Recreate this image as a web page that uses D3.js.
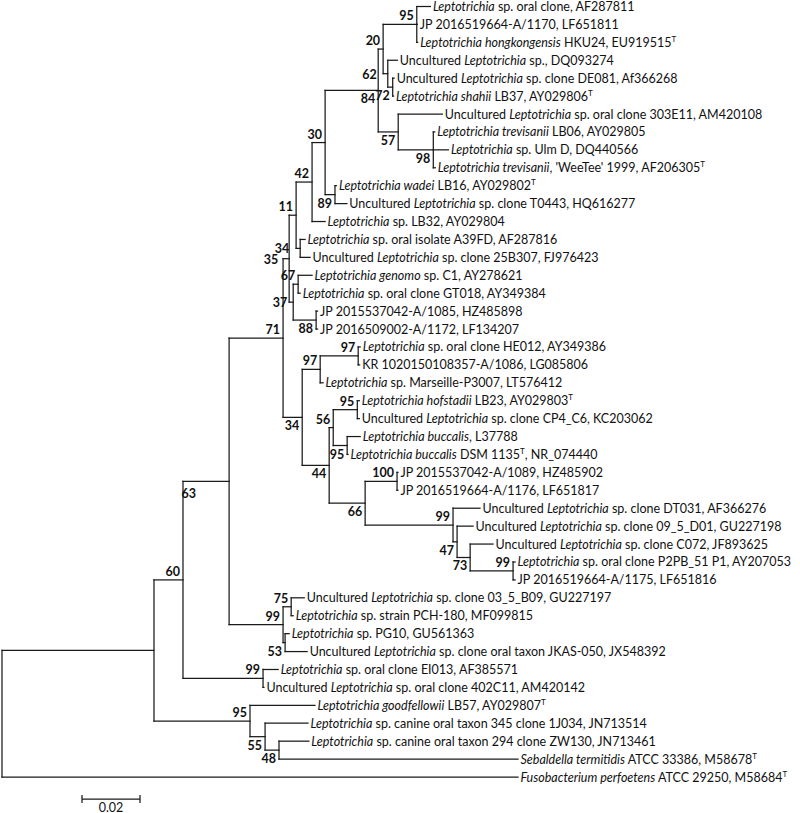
<!DOCTYPE html>
<html><head><meta charset="utf-8">
<script src="https://cdn.jsdelivr.net/npm/d3@7"></script>
<style>
html,body{margin:0;padding:0;background:#fff;}
svg{display:block;}
.leaf{font-family:Lato,"Open Sans",sans-serif;font-size:12.5px;fill:#111;}
.boot{font-family:Lato,"Open Sans",sans-serif;font-size:12.5px;font-weight:bold;fill:#111;}
</style></head>
<body>
<svg id="chart" width="800" height="813"></svg>
<script>
// ---------------- DATA ----------------
const leafNames = [
 "*Leptotrichia* sp. oral clone, AF287811",
 "JP 2016519664-A/1170, LF651811",
 "*Leptotrichia hongkongensis* HKU24, EU919515^T",
 "Uncultured *Leptotrichia* sp., DQ093274",
 "Uncultured *Leptotrichia* sp. clone DE081, Af366268",
 "*Leptotrichia shahii* LB37, AY029806^T",
 "Uncultured *Leptotrichia* sp. oral clone 303E11, AM420108",
 "*Leptotrichia trevisanii* LB06, AY029805",
 "*Leptotrichia* sp. Ulm D, DQ440566",
 "*Leptotrichia trevisanii*, 'WeeTee' 1999, AF206305^T",
 "*Leptotrichia wadei* LB16, AY029802^T",
 "Uncultured *Leptotrichia* sp. clone T0443, HQ616277",
 "*Leptotrichia* sp. LB32, AY029804",
 "*Leptotrichia* sp. oral isolate A39FD, AF287816",
 "Uncultured *Leptotrichia* sp. clone 25B307, FJ976423",
 "*Leptotrichia genomo* sp. C1, AY278621",
 "*Leptotrichia* sp. oral clone GT018, AY349384",
 "JP 2015537042-A/1085, HZ485898",
 "JP 2016509002-A/1172, LF134207",
 "*Leptotrichia* sp. oral clone HE012, AY349386",
 "KR 1020150108357-A/1086, LG085806",
 "*Leptotrichia* sp. Marseille-P3007, LT576412",
 "*Leptotrichia hofstadii* LB23, AY029803^T",
 "Uncultured *Leptotrichia* sp. clone CP4_C6, KC203062",
 "*Leptotrichia buccalis*, L37788",
 "*Leptotrichia buccalis* DSM 1135^T, NR_074440",
 "JP 2015537042-A/1089, HZ485902",
 "JP 2016519664-A/1176, LF651817",
 "Uncultured *Leptotrichia* sp. clone DT031, AF366276",
 "Uncultured *Leptotrichia* sp. clone 09_5_D01, GU227198",
 "Uncultured *Leptotrichia* sp. clone C072, JF893625",
 "*Leptotrichia* sp. oral clone P2PB_51 P1, AY207053",
 "JP 2016519664-A/1175, LF651816",
 "Uncultured *Leptotrichia* sp. clone 03_5_B09, GU227197",
 "*Leptotrichia* sp. strain PCH-180, MF099815",
 "*Leptotrichia* sp. PG10, GU561363",
 "Uncultured *Leptotrichia* sp. clone oral taxon JKAS-050, JX548392",
 "*Leptotrichia* sp. oral clone EI013, AF385571",
 "Uncultured *Leptotrichia* sp. oral clone 402C11, AM420142",
 "*Leptotrichia goodfellowii* LB57, AY029807^T",
 "*Leptotrichia* sp. canine oral taxon 345 clone 1J034, JN713514",
 "*Leptotrichia* sp. canine oral taxon 294 clone ZW130, JN713461",
 "*Sebaldella termitidis* ATCC 33386, M58678^T",
 "*Fusobacterium perfoetens* ATCC 29250, M58684^T"
];
const scaleBarValue = 0.02;
const scaleBarLabel = "0.02";

// Tree: N(branchLength, bootstrap, labelPlacement, ...children); L(leafIndex, branchLength)
function N(len, boot, place, ...children){ return {len, boot, place, children}; }
function L(i, len){ return {len, leaf:i}; }

const tree = N(0, null, null,
  N(0.0524, null, null,
    N(0.0100, 60, 'al',
      N(0.0159, 63, 'far',
        N(0.0186, 71, 'al',
          N(0.0021, 35, 'L',
            N(0.0024, 11, 'al',
              N(0.0055, 42, 'al',
                N(0.0045, 30, 'al',
                  N(0.0183, 84, 'bl',
                    N(0.0017, 20, 'al',
                      N(0.0116, 95, 'al', L(0,0.0047), L(1,0.0002), L(2,0.0003)),
                      N(0.0016, 62, 'L', L(3,0.0033), N(0.0017, 72, 'bl', L(4,0.0005), L(5,0.0003)))),
                    N(0.0069, 57, 'bl', L(6,0.0152),
                      N(0.0121, 98, 'bl', L(7,0.0005), L(8,0.0052), L(9,0.0007)))),
                  N(0.0034, 89, 'bl', L(10,0.0005), L(11,0.0041))),
                L(12,0.0045)),
              N(0.0014, 34, 'L', L(13,0.0017), L(14,0.0034))),
            N(0.0014, 37, 'l',
              N(0.0017, 67, 'al', L(15,0.0048), L(16,0.0007)),
              N(0.0079, 88, 'bl', L(17,0.0005), L(18,0.0005)))),
          N(0.0066, 34, 'bl',
            N(0.0062, 97, 'al',
              N(0.0131, 97, 'al', L(19,0.0007), L(20,0.0005)),
              L(21,0.0010)),
            N(0.0093, 44, 'bl',
              N(0.0014, 56, 'al',
                N(0.0083, 95, 'al', L(22,0.0007), L(23,0.0007)),
                N(0.0048, 95, 'bl', L(24,0.0045), L(25,0.0003))),
              N(0.0124, 66, 'bl',
                N(0.0110, 100, 'al', L(26,0.0003), L(27,0.0003)),
                N(0.0303, 99, 'al', L(28,0.0093),
                  N(0.0014, 47, 'bl', L(29,0.0055),
                    N(0.0045, 73, 'bl', L(30,0.0079),
                      N(0.0148, 99, 'al', L(31,0.0007), L(32,0.0007))))))))),
        N(0.0186, 99, 'al',
          N(0.0028, 75, 'al', L(33,0.0045), L(34,0.0007)),
          N(0.0007, 53, 'bl', L(35,0.0014), L(36,0.0076)))),
      N(0.0276, 99, 'al', L(37,0.0052), L(38,0.0003))),
    N(0.0331, 95, 'al', L(39,0.0224),
      N(0.0052, 55, 'bl', L(40,0.0148),
        N(0.0048, 48, 'bl', L(41,0.0103), L(42,0.0824))))),
  L(43,0.1779));

// ---------------- LAYOUT ----------------
const svg = d3.select("#chart");
const root = d3.hierarchy(tree, d => d.children);
root.eachBefore(d => { d.depthLen = d.parent ? d.parent.depthLen + d.data.len : 0; });

const maxDepth = d3.max(root.leaves(), d => d.depthLen);
const x = d3.scaleLinear().domain([0, maxDepth]).range([2, 518]);
const y = d3.scaleLinear().domain([0, leafNames.length - 1]).range([6.5, 777]);

root.eachAfter(d => {
  d.px = x(d.depthLen);
  if (!d.children) d.py = y(d.data.leaf);
  else d.py = (d.children[0].py + d.children[d.children.length-1].py) / 2;
});

const g = svg.append("g");
const lineColor = "#1a1a1a";
const lw = 1.25;

// horizontal branches
g.selectAll("line.h").data(root.descendants().filter(d => d.parent))
  .join("line").attr("class","h")
  .attr("x1", d => d.parent.px).attr("x2", d => d.px)
  .attr("y1", d => d.py).attr("y2", d => d.py)
  .attr("stroke", lineColor).attr("stroke-width", lw).attr("stroke-linecap","square");
// vertical connectors
g.selectAll("line.v").data(root.descendants().filter(d => d.children))
  .join("line").attr("class","v")
  .attr("x1", d => d.px).attr("x2", d => d.px)
  .attr("y1", d => d.children[0].py).attr("y2", d => d.children[d.children.length-1].py)
  .attr("stroke", lineColor).attr("stroke-width", lw).attr("stroke-linecap","square");

// leaf labels with italics / superscript
function addRich(textSel, str){
  const parts = str.split(/(\*[^*]+\*|\^T)/).filter(s => s.length);
  let sup = false;
  parts.forEach(p => {
    if (p === "^T") {
      textSel.append("tspan").attr("dy", -5).attr("font-size", "8px").text("T");
      sup = true;
    } else {
      const t = textSel.append("tspan");
      if (sup) { t.attr("dy", 5); sup = false; }
      if (p.startsWith("*")) t.attr("font-style","italic").text(p.slice(1,-1));
      else t.text(p);
    }
  });
}
g.selectAll("text.leaf").data(root.leaves())
  .join("text").attr("class","leaf")
  .attr("x", d => d.px + 2.5).attr("y", d => d.py + 4.5)
  .each(function(d){ addRich(d3.select(this), leafNames[d.data.leaf]); });

// bootstrap labels
const placeOff = {
  al:  {dx:-3, dy:-4},
  bl:  {dx:-3, dy:13},
  l:   {dx:-6, dy:5},
  L:   {dx:-11, dy:5},
  far: {dx:-33, dy:17}
};
g.selectAll("text.boot").data(root.descendants().filter(d => d.data.boot != null))
  .join("text").attr("class","boot")
  .attr("text-anchor","end")
  .attr("x", d => d.px + placeOff[d.data.place].dx)
  .attr("y", d => d.py + placeOff[d.data.place].dy)
  .text(d => d.data.boot);

// scale bar
const sbX0 = 82, sbY = 799;
const sbLen = x(scaleBarValue) - x(0);
const sb = svg.append("g");
sb.append("line").attr("x1", sbX0).attr("x2", sbX0 + sbLen).attr("y1", sbY).attr("y2", sbY)
  .attr("stroke", lineColor).attr("stroke-width", lw);
[sbX0, sbX0 + sbLen].forEach(xx => sb.append("line").attr("x1", xx).attr("x2", xx)
  .attr("y1", sbY - 4).attr("y2", sbY + 4).attr("stroke", lineColor).attr("stroke-width", lw));
sb.append("text").attr("class","leaf").attr("text-anchor","middle")
  .attr("x", sbX0 + sbLen/2).attr("y", sbY + 12.5).text(scaleBarLabel);
</script>
</body></html>
